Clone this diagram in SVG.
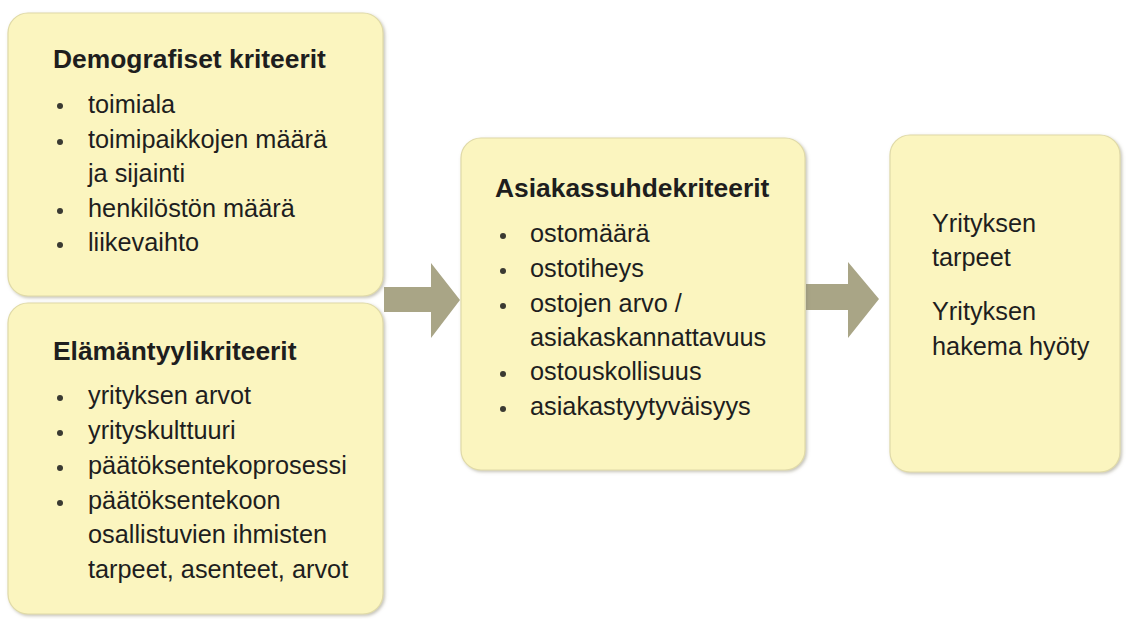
<svg xmlns="http://www.w3.org/2000/svg" width="1126" height="619" viewBox="0 0 1126 619">
<style>
.box{fill:#fbf5bf;stroke:#e0daa8;stroke-width:1.2}
.arrow{fill:#a9a586}
text{font-family:"Liberation Sans",Arial,sans-serif;fill:#1e1e1e}
.t{font-size:26.4px;font-weight:bold}
.i{font-size:25.3px}
.b{fill:#3a3a32}
</style>
<defs>
<filter id="sh" x="-5%" y="-5%" width="110%" height="110%">
<feDropShadow dx="1.5" dy="1.5" stdDeviation="1.5" flood-color="#8a8670" flood-opacity="0.5"/>
</filter>
</defs>
<rect width="1126" height="619" fill="#ffffff"/>
<g id="connectors">
<path class="arrow" d="M384,287 H431 V263 L460,300 L431,338 V312 H384 Z"/>
<path class="arrow" d="M806,284 H848 V262 L879,299 L848,338 V310 H806 Z"/>
</g>
<g id="demografiset">
<rect class="box" filter="url(#sh)" x="8" y="13" width="375" height="283" rx="20"/>
<text class="t" x="53" y="68">Demografiset kriteerit</text>
<circle class="b" cx="60" cy="106" r="3"/>
<circle class="b" cx="60" cy="142" r="3"/>
<circle class="b" cx="60" cy="211" r="3"/>
<circle class="b" cx="60" cy="245" r="3"/>
<text class="i" x="88" y="113">toimiala</text>
<text class="i" x="88" y="148">toimipaikkojen määrä</text>
<text class="i" x="88" y="182">ja sijainti</text>
<text class="i" x="88" y="217">henkilöstön määrä</text>
<text class="i" x="88" y="251">liikevaihto</text>
</g>
<g id="elamantyyli">
<rect class="box" filter="url(#sh)" x="8" y="303" width="375" height="311" rx="20"/>
<text class="t" x="53" y="360">Elämäntyylikriteerit</text>
<circle class="b" cx="60" cy="398" r="3"/>
<circle class="b" cx="60" cy="433" r="3"/>
<circle class="b" cx="60" cy="468" r="3"/>
<circle class="b" cx="60" cy="503" r="3"/>
<text class="i" x="88" y="404">yrityksen arvot</text>
<text class="i" x="88" y="439">yrityskulttuuri</text>
<text class="i" x="88" y="474">päätöksentekoprosessi</text>
<text class="i" x="88" y="509">päätöksentekoon</text>
<text class="i" x="88" y="543">osallistuvien ihmisten</text>
<text class="i" x="88" y="578">tarpeet, asenteet, arvot</text>
</g>
<g id="asiakassuhde">
<rect class="box" filter="url(#sh)" x="461" y="138" width="344" height="332" rx="20"/>
<text class="t" x="495" y="197">Asiakassuhdekriteerit</text>
<circle class="b" cx="503" cy="236" r="3"/>
<circle class="b" cx="503" cy="271" r="3"/>
<circle class="b" cx="503" cy="306" r="3"/>
<circle class="b" cx="503" cy="374" r="3"/>
<circle class="b" cx="503" cy="409" r="3"/>
<text class="i" x="530" y="242">ostomäärä</text>
<text class="i" x="530" y="277">ostotiheys</text>
<text class="i" x="530" y="312">ostojen arvo /</text>
<text class="i" x="530" y="346">asiakaskannattavuus</text>
<text class="i" x="530" y="380">ostouskollisuus</text>
<text class="i" x="530" y="415">asiakastyytyväisyys</text>
</g>
<g id="yritys">
<rect class="box" filter="url(#sh)" x="890" y="135" width="230" height="337" rx="20"/>
<text class="i" x="932" y="232">Yrityksen</text>
<text class="i" x="932" y="266">tarpeet</text>
<text class="i" x="932" y="320">Yrityksen</text>
<text class="i" x="932" y="355">hakema hyöty</text>
</g>
</svg>
